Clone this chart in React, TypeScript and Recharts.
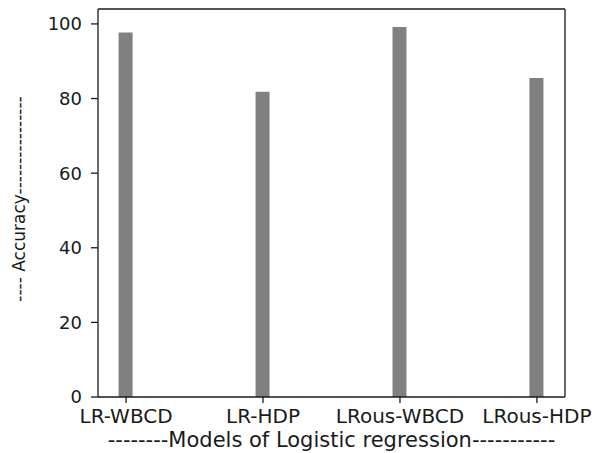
import { BarChart, Bar, XAxis, YAxis, Label } from "recharts"

const models = ["LR-WBCD", "LR-HDP", "LRous-WBCD", "LRous-HDP"]
const accuracy = [97.7, 81.8, 99.2, 85.5]
const yTicks = [0, 20, 40, 60, 80, 100]

const data = models.map((name, i) => ({ idx: i, name, accuracy: accuracy[i] }))

const font = "DejaVu Sans, sans-serif"
const ink = "#1a1a1a"

const YTitle = () => {
    const cx = 25
    const cy = 199
    return (
        <text
            x={cx}
            y={cy}
            transform={`rotate(-90, ${cx}, ${cy})`}
            textAnchor="middle"
            fontSize={17}
            fontFamily={font}
            fill={ink}
        >
            ---- Accuracy----------------
        </text>
    )
}

export default function App() {
    return (
        <div style={{ position: "absolute", left: 0, top: 0, background: "#fff" }}>
            <BarChart
                width={592}
                height={453}
                data={data}
                margin={{ top: 8, right: 26, bottom: 0, left: 0 }}
            >
                <XAxis
                    dataKey="idx"
                    type="number"
                    domain={[-0.205, 3.205]}
                    ticks={[0, 1, 2, 3]}
                    tickFormatter={(v: number) => models[v]}
                    interval={0}
                    height={56}
                    tickSize={6}
                    tickMargin={6}
                    axisLine={{ stroke: ink, strokeWidth: 1.3 }}
                    tickLine={{ stroke: ink, strokeWidth: 1.3 }}
                    tick={{ fill: ink, fontSize: 20, fontFamily: font }}
                >
                    <Label
                        value="--------Models of Logistic regression-----------"
                        position="insideBottom"
                        offset={6}
                        fill={ink}
                        fontSize={21}
                        fontFamily={font}
                    />
                </XAxis>
                <XAxis
                    xAxisId="top"
                    orientation="top"
                    dataKey="idx"
                    type="number"
                    domain={[-0.205, 3.205]}
                    height={1}
                    tick={false}
                    tickLine={false}
                    axisLine={{ stroke: ink, strokeWidth: 1.3 }}
                />
                <YAxis
                    domain={[0, 104]}
                    ticks={yTicks}
                    width={98}
                    tickSize={7}
                    tickMargin={9}
                    axisLine={{ stroke: ink, strokeWidth: 1.3 }}
                    tickLine={{ stroke: ink, strokeWidth: 1.3 }}
                    tick={{ fill: ink, fontSize: 18, fontFamily: font }}
                >
                    <Label content={<YTitle />} />
                </YAxis>
                <YAxis
                    yAxisId="right"
                    orientation="right"
                    domain={[0, 104]}
                    width={1}
                    tick={false}
                    tickLine={false}
                    axisLine={{ stroke: ink, strokeWidth: 1.3 }}
                />
                <Bar dataKey="accuracy" fill="#808080" barSize={14} isAnimationActive={false} />
            </BarChart>
        </div>
    )
}
